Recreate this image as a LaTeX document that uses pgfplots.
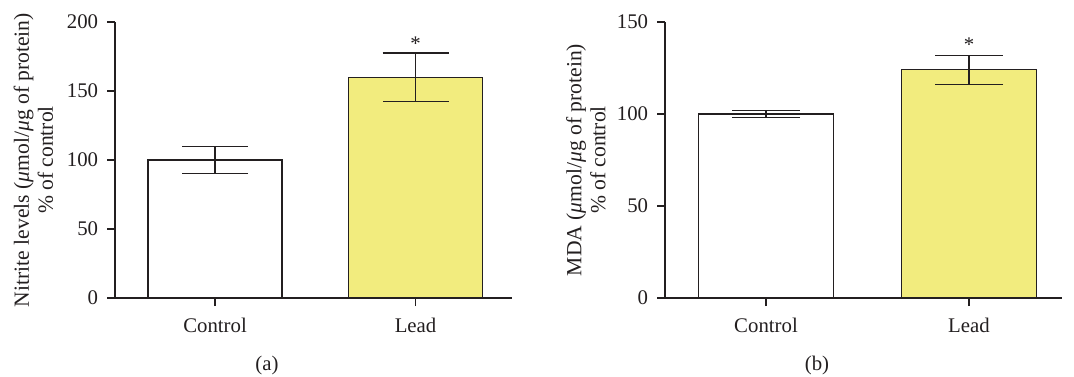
\documentclass[border=0pt]{standalone}
\usepackage{fontspec}
\setmainfont{Liberation Serif}
\usepackage{pgfplots}
\pgfplotsset{compat=1.18}
\definecolor{barY}{RGB}{242,236,126}
\definecolor{ink}{RGB}{35,31,32}
\begin{document}
\fontsize{10.4}{12.5}\selectfont
\begin{tikzpicture}
\useasboundingbox (0,0) rectangle (537pt,188pt);
\pgfplotsset{
  myaxis/.style={
    scale only axis, anchor=south west,
    width=198.5pt, height=138pt,
    axis lines=left, axis line style={-, ink, line width=0.6pt},
    ymin=0,
    xtick={1,2}, xticklabels={Control,Lead},
    tick align=outside, major tick length=4pt,
    tick style={ink, line width=0.6pt},
    /pgf/number format/assume math mode=true,
    ticklabel style={font=\fontsize{10.4}{12.5}\selectfont, text=ink},
    xticklabel style={yshift=-2.5pt},
    yticklabel style={xshift=-0.8pt},
    ylabel style={anchor=center, align=center, font=\fontsize{10.8}{12}\selectfont, text=ink},
    clip=false,
  },
  mybar/.style={ybar, bar shift=0pt, bar width=0.668, draw=ink, line width=0.6pt,
    error bars/y dir=both, error bars/y explicit,
    error bars/error bar style={ink, line width=0.6pt},
    error bars/error mark options={ink, line width=0.6pt, rotate=90, mark size=#1}},
  mybar/.default=16.5pt,
}
\begin{axis}[myaxis, at={(57.5pt,39pt)},
  xmin=0.501, xmax=2.481, ymax=200, ytick={0,50,100,150,200},
  ylabel={Nitrite levels (\textit{μ}mol/\textit{μ}g of protein)\\\% of control},
  ylabel style={at={(axis description cs:-0.2053,0.5)}}]
\addplot[mybar, fill=white] coordinates {(1,100) +- (0,10)};
\addplot[mybar, fill=barY] coordinates {(2,160) +- (0,17.5)};
\node[anchor=base, text=ink] at (axis cs:2,179.4) {*};
\end{axis}
\begin{axis}[myaxis, at={(332.5pt,39pt)},
  xmin=0.5025, xmax=2.458, ymax=150, ytick={0,50,100,150},
  ylabel={MDA (\textit{μ}mol/\textit{μ}g of protein)\\\% of control},
  ylabel style={at={(axis description cs:-0.199,0.5)}}]
\addplot[mybar=17pt, fill=white] coordinates {(1,100) +- (0,2)};
\addplot[mybar=17pt, fill=barY] coordinates {(2,124) +- (0,8)};
\node[anchor=base, text=ink] at (axis cs:2,134.2) {*};
\end{axis}
\node[text=ink] at (133.5pt,5.25pt) {(a)};
\node[text=ink] at (408.5pt,5.25pt) {(b)};
\end{tikzpicture}
\end{document}
